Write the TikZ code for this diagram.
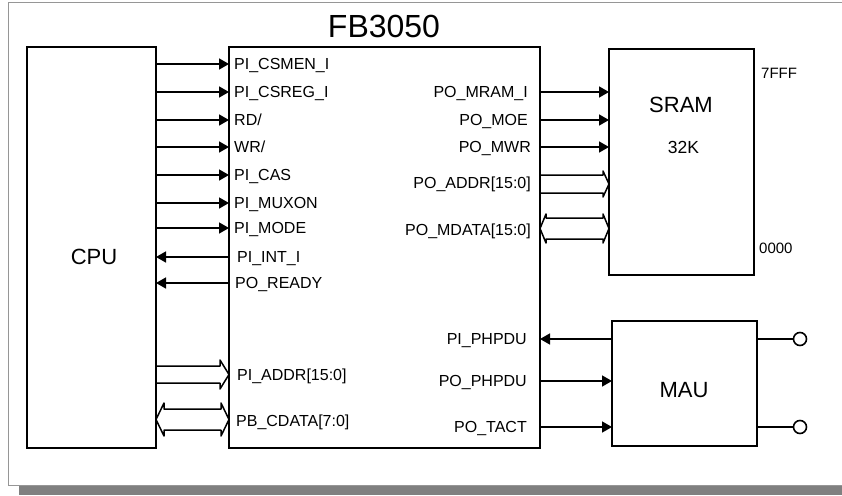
\documentclass[tikz,border=0pt]{standalone}
\usepackage{fontspec}
\setmainfont{Liberation Sans}
\usetikzlibrary{arrows.meta,calc}
\definecolor{framec}{RGB}{150,150,150}
\definecolor{shadowc}{RGB}{128,128,128}
% #1 start, #2 end, #3 ytop, #4 ybot, #5 head length, #6 bump
\newcommand\busR[6]{%
  \draw[bus] (#1|-0,#3) -- ($(#2|-0,#3)+(-#5,0)$) -- ++(0,-#6) -- (#2|-0,{(#3+#4)/2})
    -- ($(#2|-0,#4)+(-#5,#6)$) -- ++(0,-#6) -- (#1|-0,#4);}
\newcommand\busLR[6]{%
  \draw[bus] (#1|-0,{(#3+#4)/2}) -- ($(#1|-0,#3)+(#5,-#6)$) -- ++(0,#6)
    -- ($(#2|-0,#3)+(-#5,0)$) -- ++(0,-#6) -- (#2|-0,{(#3+#4)/2})
    -- ($(#2|-0,#4)+(-#5,#6)$) -- ++(0,-#6) -- ($(#1|-0,#4)+(#5,0)$) -- ++(0,#6) -- cycle;}
\begin{document}
\begin{tikzpicture}[x=1pt,y=-1pt,
  box/.style={draw,line width=2pt,inner sep=0pt,outer sep=0pt},
  sig/.style={line width=1.6pt,-{Triangle[length=10pt,width=11pt]}},
  wire/.style={line width=1.6pt},
  bus/.style={line width=1.5pt,line join=round},
  circ/.style={draw,circle,line width=1.6pt,minimum size=13pt,inner sep=0pt,outer sep=0pt,fill=white},
  lbl/.style={font=\fontsize{16}{19}\selectfont,text height=11.5pt,text depth=0pt,inner sep=0pt},
  big/.style={font=\fontsize{22}{26}\selectfont,text height=15.75pt,text depth=0pt,inner sep=0pt},
  ttl/.style={font=\fontsize{32}{38}\selectfont,text height=22.9pt,text depth=0pt,inner sep=0pt},
  midt/.style={font=\fontsize{17.5}{21}\selectfont,text height=12.5pt,text depth=0pt,inner sep=0pt},
  adr/.style={font=\fontsize{15}{18}\selectfont,text height=10.7pt,text depth=0pt,inner sep=0pt}
]
\useasboundingbox (0,0) rectangle (842,495);
\fill[white] (0,0) rectangle (842,495);
% outer frame and shadow
\draw[framec,line width=1pt] (842,3) -- (8,3) -- (8,485) -- (842,485);
\fill[shadowc] (19,486) rectangle (842,495);

% boxes
\node[box,minimum width=129pt,minimum height=401pt] (cpu) at (91.5,247.5) {};
\node[box,minimum width=311pt,minimum height=401pt] (fb) at (384.5,247.5) {};
\node[box,minimum width=145pt,minimum height=226pt] (sram) at (681.5,162) {};
\node[box,minimum width=145pt,minimum height=125pt] (mau) at (684.5,383.5) {};

\node[ttl] (title) at (384,26) {FB3050};
\node[big] (cputxt) at (94,257) {CPU};
\node[big] (sramtxt) at (681,105) {SRAM};
\node[midt] (sizetxt) at (683.5,147) {32K};
\node[big] (mautxt) at (684,390) {MAU};
\node[adr,anchor=west] (hi) at (761,73) {7FFF};
\node[adr,anchor=west] (lo) at (759,248) {0000};

% left labels
\node[lbl,anchor=west] (l1) at (234,64) {PI\_CSMEN\_I};
\node[lbl,anchor=west] (l2) at (234,92) {PI\_CSREG\_I};
\node[lbl,anchor=west] (l3) at (234,120) {RD/};
\node[lbl,anchor=west] (l4) at (234,147) {WR/};
\node[lbl,anchor=west] (l5) at (234,175) {PI\_CAS};
\node[lbl,anchor=west] (l6) at (234,203) {PI\_MUXON};
\node[lbl,anchor=west] (l7) at (234,228) {PI\_MODE};
\node[lbl,anchor=west] (l8) at (237,257) {PI\_INT\_I};
\node[lbl,anchor=west] (l9) at (235,283) {PO\_READY};
\node[lbl,anchor=west] (l10) at (237,375) {PI\_ADDR[15:0]};
\node[lbl,anchor=west] (l11) at (236,421) {PB\_CDATA[7:0]};

% right labels
\node[lbl,anchor=east] (r1) at (528,92) {PO\_MRAM\_I};
\node[lbl,anchor=east] (r2) at (528,120) {PO\_MOE};
\node[lbl,anchor=east] (r3) at (531,147) {PO\_MWR};
\node[lbl,anchor=east] (r4) at (531,183) {PO\_ADDR[15:0]};
\node[lbl,anchor=east] (r5) at (531,230) {PO\_MDATA[15:0]};
\node[lbl,anchor=east] (r6) at (527,339) {PI\_PHPDU};
\node[lbl,anchor=east] (r7) at (527,381) {PO\_PHPDU};
\node[lbl,anchor=east] (r8) at (527,427) {PO\_TACT};

% CPU -> FB inputs
\foreach \n in {l1,l2,l3,l4,l5,l6,l7}
  \draw[sig] (cpu.east|-\n.west) -- (fb.west|-\n.west);
% FB -> CPU
\draw[sig] (fb.west|-0,257) -- (cpu.east|-0,257);
\draw[sig] (fb.west|-0,283) -- (cpu.east|-0,283);
% CPU buses
\busR{cpu.east}{fb.west}{366}{383}{9}{6}
\busLR{cpu.east}{fb.west}{409}{430}{8}{6}

% FB -> SRAM
\draw[sig] (fb.east|-0,92) -- (sram.west|-0,92);
\draw[sig] (fb.east|-0,120) -- (sram.west|-0,120);
\draw[sig] (fb.east|-0,147) -- (sram.west|-0,147);
\busR{fb.east}{sram.west}{175}{193}{6}{4}
\busLR{fb.east}{sram.west}{218}{239}{6}{4}

% FB <-> MAU
\draw[sig] (mau.west|-0,339) -- (fb.east|-0,339);
\draw[sig] (fb.east|-0,381) -- (mau.west|-0,381);
\draw[sig] (fb.east|-0,427) -- (mau.west|-0,427);

% terminals
\node[circ] (t1) at (800,339) {};
\node[circ] (t2) at (800,427) {};
\draw[wire] (mau.east|-t1) -- (t1);
\draw[wire] (mau.east|-t2) -- (t2);
\end{tikzpicture}
\end{document}
